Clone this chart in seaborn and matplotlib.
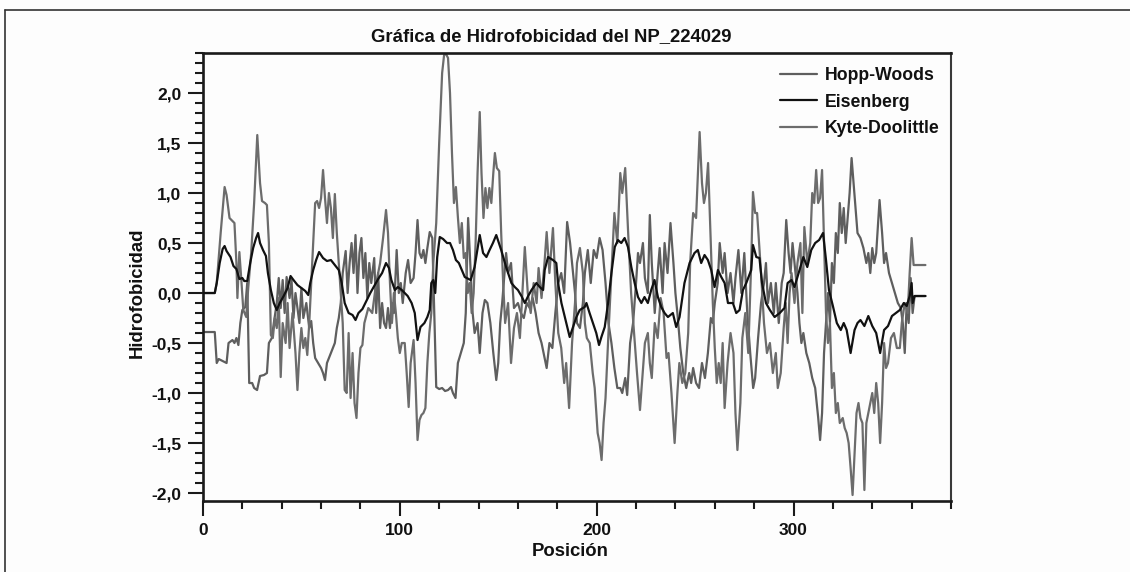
import matplotlib
matplotlib.use("Agg")
import matplotlib.pyplot as plt
import seaborn as sns
import pandas as pd
from matplotlib.lines import Line2D
from matplotlib.ticker import MultipleLocator, FuncFormatter

# Hydrophobicity profiles of NP_224029: (position, value) vertices per scale
hopp_woods = [
    (0, -0.39), (6, -0.39), (7, -0.7), (8, -0.66), (10, -0.68), (12, -0.7), (13, -0.5), (15, -0.47),
    (16, -0.5), (17, -0.45), (18, -0.52), (19, -0.3), (20, -0.17), (21.5, -0.14), (22.5, 0.1),
    (23.5, -0.9), (25, -0.9), (26, -0.95), (27.5, -0.97), (29, -0.83), (31, -0.82), (32.5, -0.8),
    (33.5, -0.5), (35, -0.45), (36, -0.3), (37.5, -0.1), (38.5, 0.15), (39.5, -0.15), (40.5, 0.13),
    (41.5, -0.2), (42.5, 0.16), (44, -0.05), (45, 0.13), (46, -0.25), (47, 0.0), (49, -0.3),
    (50, 0.05), (51, -0.25), (52.5, -0.1), (54, -0.35), (55, -0.28), (56, -0.5), (57, -0.65),
    (58.5, -0.7), (60, -0.75), (61, -0.8), (62, -0.87), (63, -0.7), (65, -0.6), (66, -0.55),
    (67, -0.5), (68, -0.35), (69, -0.25), (70, -0.1), (71, 0.2), (72.5, 0.42), (73.5, 0.0),
    (74.5, 0.3), (75.5, 0.5), (76.5, 0.2), (77.5, 0.58), (78.5, 0.0), (79.5, 0.4), (80.5, 0.55),
    (81.5, 0.15), (82.5, 0.4), (83.5, -0.05), (84.5, 0.3), (85.5, 0.1), (87, 0.35), (88, -0.2),
    (89, 0.2), (90, -0.35), (91, -0.1), (92, -0.3), (93, -0.35), (94, -0.15), (95, -0.35),
    (96, -0.1), (97, -0.2), (98.4, 0.43), (99.5, 0.0), (100.5, 0.1), (101.5, -0.1), (103, 0.2),
    (104.2, 0.33), (105.5, 0.1), (107, 0.15), (108, 0.4), (109, 0.73), (110, 0.4), (111, 0.35),
    (112, 0.43), (113, 0.3), (114, 0.45), (115.2, 0.61), (116.5, 0.55), (117.5, -0.2),
    (118.5, -0.94), (120, -0.96), (121.5, -0.95), (123, -0.98), (124.5, -0.97), (126, -0.94),
    (127, -1.0), (128.3, -1.05), (129.5, -0.7), (131, -0.6), (132.5, -0.5), (133.5, -0.2),
    (134.7, 0.75), (136, 0.2), (137, -0.2), (138, -0.4), (139.5, -0.3), (140.6, -0.6),
    (142, -0.2), (143.2, -0.07), (144.5, -0.1), (146, -0.3), (147.5, -0.6), (149, -0.87),
    (150, -0.7), (151, -0.3), (152, -0.1), (153, 0.15), (154, 0.4), (155, 0.2), (156.5, 0.3),
    (158, -0.15), (160, -0.1), (161.5, -0.2), (163, -0.25), (164.5, -0.1), (166, -0.15),
    (167.5, -0.05), (169, -0.2), (170.5, -0.4), (172, -0.5), (174.6, -0.75), (176, -0.5),
    (177.5, -0.55), (179, -0.2), (180.5, 0.1), (182, 0.2), (183.5, 0.0), (185, 0.71),
    (186.5, 0.5), (187.5, 0.3), (189, 0.0), (190, -0.3), (191.5, -0.35), (193, -0.1), (194, 0.2),
    (195.5, 0.43), (197, 0.1), (198.5, 0.43), (200, 0.35), (201.5, 0.55), (203, 0.43),
    (204.5, 0.1), (206, -0.3), (207.5, -0.5), (209, -0.75), (210.5, -0.95), (212, -0.95),
    (213, -1.0), (214.5, -0.85), (215.5, -1.02), (217, -0.5), (218.5, -0.3), (220, 0.1),
    (221, 0.4), (222, 0.3), (223.5, 0.5), (224.5, 0.15), (226, 0.0), (227, 0.78), (228, 0.3),
    (229.5, -0.2), (231, 0.2), (232, 0.45), (233.5, 0.0), (234.5, 0.5), (236, 0.2), (237.5, 0.7),
    (239, 0.3), (240, 0.0), (241, -0.2), (242.5, -0.55), (244, -0.8), (245.5, -0.95), (247, -0.8),
    (248, -0.9), (249, -0.75), (250.5, -0.9), (252, -0.95), (253.5, -0.7), (255, -0.85),
    (256.5, -0.6), (258, -0.25), (259, -0.3), (260, -0.1), (261.5, 0.1), (262.5, 0.5), (264, 0.2),
    (265, 0.4), (266.5, 0.0), (268, 0.2), (269.5, -0.1), (270.5, 0.15), (272, 0.43), (273.5, 0.0),
    (275, 0.4), (276.5, -0.2), (278, -0.6), (279.5, -0.95), (280.5, -0.85), (282, -0.45),
    (283.5, -0.1), (285, 0.1), (286, 0.3), (287, -0.1), (288.5, 0.1), (290, -0.2), (291, 0.1),
    (292.5, -0.3), (294, 0.1), (295, 0.2), (296.3, 0.73), (297.5, 0.4), (298.5, 0.2), (299.5, 0.5),
    (300.5, 0.3), (302, 0.0), (303, -0.3), (304, -0.5), (305, -0.4), (306.5, -0.6), (308, -0.7),
    (309.5, -0.85), (311, -0.95), (312.5, -1.24), (313.5, -1.47), (314.5, -1.2), (315.5, -0.6),
    (316.5, -0.3), (317.5, 0.0), (318.5, -0.3), (319.5, 0.3), (320.5, 0.1), (321.5, 0.6),
    (322.5, 0.4), (323.5, 0.9), (324.5, 0.6), (325.5, 0.85), (326.5, 0.5), (327.5, 0.75),
    (328.5, 1.0), (329.5, 1.35), (330.5, 1.1), (331.5, 0.85), (332.5, 0.6), (334, 0.55),
    (335.5, 0.45), (337, 0.3), (338, 0.4), (339, 0.2), (340, 0.45), (341, 0.3), (342, 0.4),
    (343.7, 0.93), (345, 0.6), (346, 0.3), (347, 0.4), (348.5, 0.2), (350, 0.1), (351.5, 0.0),
    (353, -0.1), (354.5, -0.15), (355.5, -0.3), (356.5, -0.6), (357.5, -0.1), (358.5, -0.3),
    (359.5, 0.15), (360.5, -0.2), (361.5, -0.03), (367, -0.03),
]

eisenberg = [
    (0, 0.0), (6, 0.0), (7, 0.1), (8.5, 0.3), (10, 0.44), (11, 0.47), (12, 0.42), (14, 0.36),
    (15.5, 0.27), (17, 0.24), (18.5, 0.14), (20, 0.15), (21, 0.12), (22.5, 0.12), (24, 0.3),
    (25.5, 0.45), (27, 0.55), (28, 0.6), (29, 0.5), (30.5, 0.43), (32, 0.37), (33, 0.2),
    (34.5, 0.03), (36, -0.1), (37.5, -0.17), (39, -0.1), (41, -0.03), (43, 0.05), (44.5, 0.17),
    (46, 0.13), (48, 0.08), (50, 0.05), (52, 0.02), (53.5, -0.02), (54.5, 0.1), (56, 0.23),
    (57.5, 0.33), (59, 0.41), (61, 0.35), (63, 0.32), (65, 0.33), (67, 0.28), (69, 0.23),
    (70.5, 0.1), (72, -0.1), (74, -0.2), (76, -0.22), (77.5, -0.27), (79, -0.2), (81, -0.16),
    (83, -0.08), (85, 0.0), (87, 0.07), (89, 0.14), (91, 0.2), (93, 0.3), (94.5, 0.25),
    (95.7, 0.13), (97.5, 0.03), (99, 0.06), (101, 0.03), (102.5, 0.0), (104, -0.03), (106, -0.1),
    (107.6, -0.2), (109, -0.47), (110.5, -0.34), (112.5, -0.3), (114, -0.24), (115.2, -0.17),
    (116, 0.1), (117, 0.13), (118, 0.0), (119, 0.36), (120.3, 0.56), (122, 0.54), (124, 0.5),
    (125.5, 0.5), (127, 0.43), (128.5, 0.33), (130, 0.3), (131.5, 0.23), (133, 0.16), (136, 0.13),
    (138, 0.26), (140.6, 0.58), (142.3, 0.4), (144, 0.36), (145.6, 0.43), (147.3, 0.5),
    (149, 0.58), (151.5, 0.43), (154, 0.26), (156.7, 0.1), (158.4, 0.06), (160, 0.03),
    (161.8, -0.03), (163.5, -0.1), (165.2, -0.03), (166.9, 0.03), (169.4, 0.1), (171.1, 0.06),
    (172.8, 0.03), (173.6, 0.23), (175.3, 0.36), (177.8, 0.33), (179.5, 0.3), (180.4, 0.1),
    (182.1, -0.1), (184.6, -0.3), (186.3, -0.44), (188, -0.34), (189.7, -0.24), (191.4, -0.17),
    (193.9, -0.14), (194.8, -0.1), (196.4, -0.2), (198.1, -0.3), (199.8, -0.4), (201.2, -0.52),
    (202.4, -0.44), (204.1, -0.34), (205.8, -0.1), (207.5, 0.2), (209.2, 0.46), (210.8, 0.53),
    (212.5, 0.5), (214.2, 0.55), (215.9, 0.46), (217.6, 0.26), (219.3, 0.1), (221, -0.04),
    (222.7, -0.1), (224.3, -0.04), (226, -0.1), (227.7, 0.03), (229.4, 0.13), (231.1, -0.04),
    (232.8, -0.14), (234.5, -0.2), (236.2, -0.24), (238.7, -0.2), (240.4, -0.34), (242.1, -0.24),
    (244.6, 0.1), (247.2, 0.3), (249.7, 0.4), (251.4, 0.43), (253.1, 0.3), (254.8, 0.38),
    (256.5, 0.33), (258.2, 0.23), (259.9, 0.06), (261.6, 0.23), (263.3, 0.16), (265, 0.1),
    (266.7, -0.1), (269.2, -0.1), (270.9, -0.2), (272.6, -0.17), (274.3, 0.03), (276, 0.1),
    (278.5, 0.23), (279.4, 0.48), (281.1, 0.36), (282.7, 0.35), (284, 0.1), (286, -0.1),
    (288, -0.17), (290.4, -0.24), (293, -0.2), (295.4, -0.15), (297, 0.1), (299, 0.13),
    (300.5, 0.06), (302, 0.16), (305, 0.36), (307, 0.26), (309, 0.43), (311, 0.5), (313, 0.53),
    (315, 0.6), (316.5, 0.33), (318, 0.03), (320, -0.13), (322, -0.3), (324, -0.37),
    (325.5, -0.3), (327, -0.37), (329, -0.6), (331, -0.37), (332.5, -0.3), (334, -0.27),
    (336, -0.33), (338, -0.23), (340, -0.33), (342, -0.4), (344, -0.6), (346, -0.37),
    (348, -0.33), (350, -0.23), (352, -0.2), (354, -0.17), (356, -0.1), (357.5, -0.13),
    (359, -0.03), (360, 0.1), (360.5, -0.1), (361.5, -0.03), (367, -0.03),
]

kyte_doolittle = [
    (0, 0.0), (6, 0.0), (7, 0.1), (9, 0.6), (11, 1.06), (12, 0.98), (13.5, 0.75), (15, 0.72),
    (16, 0.7), (17, 0.3), (17.5, -0.05), (18.5, 0.41), (19.5, 0.13), (20.5, -0.17), (22, -0.24),
    (23, 0.05), (24.5, 0.4), (26, 0.9), (27.6, 1.58), (29, 1.1), (30, 0.92), (31.5, 0.9),
    (32.5, 0.88), (33.5, 0.5), (34.5, -0.42), (35.5, -0.45), (36.5, -0.25), (37.5, -0.35),
    (38.5, -0.05), (39.5, -0.84), (40.5, -0.3), (42, -0.5), (43, -0.1), (44, -0.55), (45.5, -0.2),
    (47, -0.6), (48, -0.97), (49, -0.6), (50, -0.35), (51, -0.55), (52, -0.45), (53, -0.62),
    (54, -0.3), (55, 0.1), (56, 0.5), (57, 0.9), (58, 0.92), (59, 0.85), (60, 0.95), (61, 1.23),
    (62, 0.95), (63, 0.7), (64, 1.0), (65, 0.85), (66, 0.55), (67, 0.99), (68, 0.6), (69, 0.3),
    (70, 0.0), (71, -0.3), (72, -0.97), (73, -1.0), (74, -0.4), (75, -1.05), (76, -0.6),
    (77, -1.1), (78, -1.25), (79, -0.8), (80, -0.55), (81, -0.52), (82, -0.3), (84, -0.15),
    (86, -0.2), (88, 0.1), (90, 0.3), (91.5, 0.55), (93, 0.83), (94, 0.6), (95, 0.1), (96, -0.3),
    (97, 0.0), (98, -0.2), (99, -0.45), (100, -0.6), (101, -0.5), (102.5, -0.5), (103.5, -0.8),
    (104.5, -1.14), (105.5, -0.7), (107, -0.47), (108, -0.9), (109, -1.47), (110, -1.27),
    (111, -1.22), (112, -1.2), (113, -1.15), (114, -0.7), (115, -0.4), (116, -0.2), (117, 0.3),
    (118.5, 0.7), (120, 1.5), (121.5, 2.2), (122.5, 2.38), (123.5, 2.39), (124.5, 2.35),
    (125.5, 2.0), (126.5, 1.4), (127.5, 0.9), (128.5, 1.06), (129.5, 0.76), (130.5, 0.5),
    (131.5, 0.7), (132.5, 0.35), (133.5, 0.4), (134.5, 0.0), (135.5, 0.1), (136.5, -0.2),
    (137.5, 0.0), (138.5, 0.5), (139.5, 1.2), (140.6, 1.81), (141.5, 1.2), (142.5, 0.75),
    (143.5, 1.05), (144.5, 0.85), (145.5, 1.05), (146.5, 0.9), (147.5, 1.2), (148.3, 1.4),
    (149.3, 1.25), (150.5, 1.22), (151.5, 0.6), (152.5, 0.1), (153.5, -0.3), (155, -0.1),
    (156.5, -0.7), (158, -0.35), (159.5, -0.2), (161, -0.45), (162, -0.1), (163.5, 0.46),
    (165, 0.0), (166.5, -0.2), (168, 0.1), (169.5, -0.1), (170.5, 0.25), (172, -0.05),
    (173.5, 0.3), (174.6, 0.61), (176, 0.2), (177.8, 0.65), (179, 0.1), (180.5, -0.4),
    (182, -0.55), (183.5, -0.9), (184.5, -0.7), (186, -1.15), (187.5, -0.5), (189, -0.1),
    (190, 0.3), (191.5, 0.45), (193, 0.2), (194, -0.3), (195, -0.45), (196.5, -0.5), (198, -0.8),
    (199, -0.95), (200.5, -1.4), (201.5, -1.5), (202.5, -1.67), (203.5, -1.3), (204.5, -1.05),
    (206, -0.4), (207.5, 0.2), (209, 0.8), (210.5, 0.5), (212, 1.2), (213, 1.0), (214.5, 1.25),
    (216, 0.6), (217.5, 0.0), (219, -0.4), (220.5, -0.8), (222, -1.17), (223, -0.9),
    (224.5, -0.5), (226, -0.4), (227, -0.7), (228, -0.85), (229.5, -0.3), (231, -0.45),
    (232.5, -0.05), (234, -0.2), (235.5, -0.65), (236.5, -0.6), (238, -1.0), (239.6, -1.5),
    (241, -1.0), (242, -0.7), (243.5, -0.9), (245, -0.8), (246.5, -0.4), (247.5, 0.3), (249, 0.8),
    (250.5, 0.75), (252.3, 1.61), (253.5, 1.1), (254.5, 0.9), (255.5, 1.0), (256.6, 1.3),
    (258, 0.5), (259, -0.1), (260, -0.55), (261, -0.9), (262, -0.7), (263, -0.9), (264, -0.5),
    (265, -1.15), (266.5, -0.7), (268, -0.4), (269.5, -0.6), (270.5, -1.2), (271.5, -1.57),
    (273, -1.1), (274, -0.45), (275.5, -0.2), (277, -0.6), (278.5, 0.3), (279.4, 1.01),
    (280.5, 0.8), (281.5, 0.8), (283.5, 0.2), (285, -0.3), (286.5, -0.6), (288, -0.5),
    (289.5, -0.8), (291, -0.6), (292, -0.95), (293.5, -0.8), (295, -0.35), (296, -0.1),
    (297, -0.5), (298, 0.0), (299, 0.2), (300.5, -0.1), (302, 0.3), (303.5, 0.5), (304.5, -0.2),
    (305.5, 0.66), (307, 0.3), (308.5, 0.5), (309.5, 1.0), (310.5, 0.9), (311.5, 1.23),
    (312.5, 0.9), (313.5, 0.95), (314.5, 1.23), (315.5, 0.5), (316.5, -0.2), (317.5, -0.5),
    (318.5, -0.3), (319.5, -0.95), (320.5, -0.8), (321.5, -1.2), (322.5, -1.1), (323.5, -1.3),
    (325, -1.25), (326, -1.35), (327, -1.4), (328, -1.5), (329, -1.75), (330, -2.02), (331, -1.6),
    (332, -1.2), (333, -1.1), (334, -1.25), (335, -1.3), (336, -1.97), (337, -1.3),
    (338.5, -1.15), (340, -1.0), (341, -1.2), (342, -0.9), (343, -1.1), (344, -1.5), (345, -1.1),
    (346, -0.5), (347, -0.75), (348, -0.7), (349.5, -0.45), (351, -0.4), (352.5, -0.55),
    (354, -0.55), (355, -0.3), (356.5, -0.1), (358, -0.2), (359, 0.2), (360, 0.55), (361, 0.28),
    (367, 0.28),
]

series_names = ["Hopp-Woods", "Eisenberg", "Kyte-Doolittle"]
series_data = [hopp_woods, eisenberg, kyte_doolittle]
series_colors = ["#5e5e5e", "#111111", "#6c6c6c"]
y_ticks = [-2.0, -1.5, -1.0, -0.5, 0.0, 0.5, 1.0, 1.5, 2.0]
x_ticks = [0, 100, 200, 300]

sns.set_theme(style="ticks")
plt.rcParams["font.family"] = ["Liberation Sans", "DejaVu Sans"]
plt.rcParams["font.weight"] = "bold"

bg = "#fdfdfd"
fig = plt.figure(figsize=(11.3, 5.72), dpi=100, facecolor=bg)
ax = fig.add_axes([0.1796, 0.1241, 0.662, 0.7832])
ax.set_facecolor(bg)

for name, pts, col in zip(series_names, series_data, series_colors):
    df = pd.DataFrame(pts, columns=["Posición", "Hidrofobicidad"])
    sns.lineplot(data=df, x="Posición", y="Hidrofobicidad", ax=ax, color=col,
                 linewidth=1.6, label=name, estimator=None, sort=False)

# keep the Eisenberg curve on top of the two grey profiles
ax.get_lines()[1].set_zorder(3)

ax.set_xlim(0, 380)
ax.set_ylim(-2.08, 2.40)
ax.set_xticks(x_ticks)
ax.set_yticks(y_ticks)
ax.xaxis.set_minor_locator(MultipleLocator(20))
ax.yaxis.set_minor_locator(MultipleLocator(0.1))
ax.yaxis.set_major_formatter(FuncFormatter(lambda v, p: f"{v:.1f}".replace(".", ",")))
ax.xaxis.set_major_formatter(FuncFormatter(lambda v, p: f"{v:.0f}"))

ax.tick_params(which="major", direction="out", length=11, width=1.5, color="#1a1a1a",
               labelsize=12.5, pad=4.5, labelcolor="#111111")
ax.tick_params(which="minor", direction="out", length=6, width=1.5, color="#1a1a1a")
for lab in ax.get_xticklabels() + ax.get_yticklabels():
    lab.set_fontweight("bold")

for side in ["left", "bottom", "top"]:
    ax.spines[side].set_color("#1a1a1a")
    ax.spines[side].set_linewidth(1.9)
ax.spines["right"].set_color("#3a3a3a")
ax.spines["right"].set_linewidth(1.5)

ax.set_xlabel("Posición", fontsize=13.3, fontweight="bold", color="#111111")
ax.set_ylabel("Hidrofobicidad", fontsize=13.3, fontweight="bold", color="#111111")
ax.xaxis.set_label_coords(0.4906, -0.093)
ax.yaxis.set_label_coords(-0.076, 0.464)

leg = ax.legend(loc="upper left", bbox_to_anchor=(0.771, 0.969), frameon=False,
                prop={"weight": "bold", "size": 12.7}, handlelength=2.1,
                handletextpad=0.45, labelspacing=0.55, borderaxespad=0, borderpad=0)
for txt in leg.get_texts():
    txt.set_color("#111111")

fig.text(551 / 1130, 1 - 37 / 572, "Gráfica de Hidrofobicidad del NP_224029",
         ha="center", va="center", fontsize=13.3, fontweight="bold", color="#111111")

# page frame along the top and left edges
fig.add_artist(Line2D([5 / 1130, 1.0], [1 - 10 / 572, 1 - 10 / 572],
                      transform=fig.transFigure, color="#333333", linewidth=1.2))
fig.add_artist(Line2D([5 / 1130, 5 / 1130], [0.0, 1 - 10 / 572],
                      transform=fig.transFigure, color="#333333", linewidth=1.2))

fig.savefig("out.png", dpi=100, facecolor=bg)
